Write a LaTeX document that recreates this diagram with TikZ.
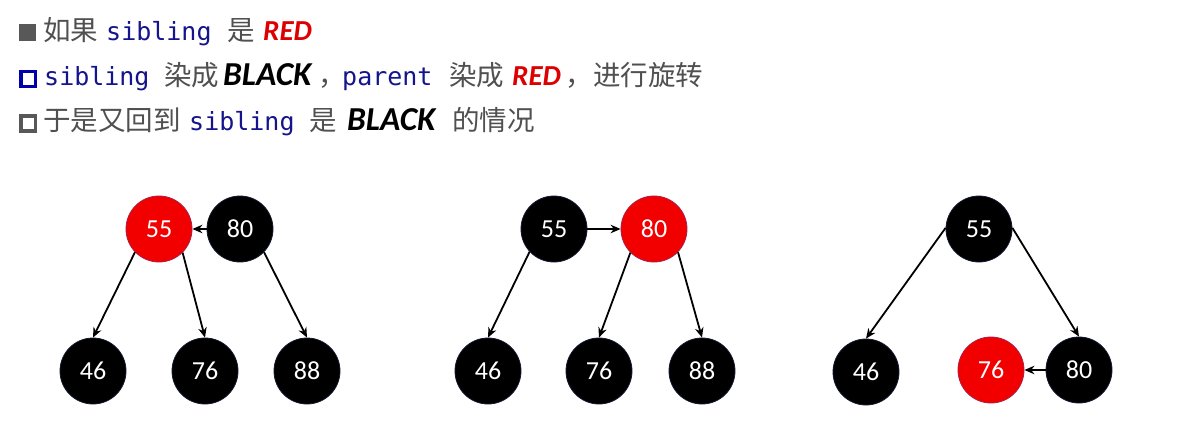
\documentclass[tikz,border=0pt]{standalone}
\usepackage{fontspec}
\setmainfont{Carlito}
\newfontfamily\cjk{Noto Sans CJK SC}
\newfontfamily\monof{DejaVu Sans Mono}
\newfontfamily\numf{Carlito}
\usetikzlibrary{arrows.meta}
\definecolor{txtgrey}{RGB}{80,80,80}
\definecolor{codeblue}{RGB}{20,20,140}
\definecolor{kwred}{RGB}{222,0,0}
\definecolor{nodered}{RGB}{242,0,0}
\definecolor{redborder}{RGB}{170,30,70}
\definecolor{blkborder}{RGB}{20,25,50}
\definecolor{bulletblue}{RGB}{0,0,170}
\definecolor{bulletgrey}{RGB}{88,88,88}
\tikzset{
  txt/.style={anchor=base west, inner sep=0pt, text=txtgrey, font=\cjk\fontsize{27.5}{30}\selectfont},
  code/.style={anchor=base west, inner sep=0pt, text=codeblue, font=\monof\fontsize{25}{30}\selectfont},
  kwr/.style={anchor=base west, inner sep=0pt, text=kwred, font=\fontsize{29}{30}\selectfont\bfseries\itshape},
  kwb/.style={anchor=base west, inner sep=0pt, text=black, font=\fontsize{33.5}{36}\selectfont\bfseries\itshape},
  rbnode/.style={circle, minimum size=66pt, inner sep=0pt, line width=0.8pt, text=white, font=\numf\fontsize{26}{28}\selectfont},
  blk/.style={rbnode, fill=black, draw=blkborder},
  rd/.style={rbnode, fill=nodered, draw=redborder},
  edge/.style={line width=1.8pt, -{Stealth[length=10pt,width=8.5pt]}}
}
\begin{document}
\begin{tikzpicture}[x=1pt,y=-1pt]
\useasboundingbox[fill=white] (0,0) rectangle (1189,431);
% bullets
\fill[bulletgrey] (19,24) rectangle (36,41);
\draw[bulletblue, line width=3.3pt] (21.1,71.6) rectangle (35.4,86.4);
\draw[bulletgrey, line width=3.3pt] (21.1,116.1) rectangle (35.4,130.9);
% line 1
\node[txt]  (l1a) at (43,40) {如果};
\node[code] (l1b) at (106,40) {sibling};
\node[txt]  (l1c) at (227,40) {是};
\node[kwr]  (l1d) at (263,40) {RED};
% line 2
\node[code] (l2a) at (44,85) {sibling};
\node[txt]  (l2b) at (164,85) {染成};
\node[kwb]  (l2c) at (223,85) {BLACK};
\node[txt]  (l2d) at (318,85) {，};
\node[code] (l2e) at (342,85) {parent};
\node[txt]  (l2f) at (449,85) {染成};
\node[kwr]  (l2g) at (512,85) {RED};
\node[txt]  (l2h) at (565,85) {，};
\node[txt]  (l2i) at (593,85) {进行旋转};
% line 3
\node[txt]  (l3a) at (43,130) {于是又回到};
\node[code] (l3b) at (189,130) {sibling};
\node[txt]  (l3c) at (309,130) {是};
\node[kwb]  (l3d) at (347,130) {BLACK};
\node[txt]  (l3e) at (452,130) {的情况};
% tree 1
\node[rd]  (t1a) at (159,229) {55};
\node[blk] (t1b) at (240,229) {80};
\node[blk] (t1c) at (93,371) {46};
\node[blk] (t1d) at (205,371) {76};
\node[blk] (t1e) at (307,371) {88};
\draw[edge] (t1b.west) -- (t1a.east);
\draw[edge] (t1a.-136) -- (t1c.north);
\draw[edge] (t1a.-45) -- (t1d.north);
\draw[edge] (t1b.-44) -- (t1e.north);
% tree 2
\node[blk] (t2a) at (554,229) {55};
\node[rd]  (t2b) at (654,229) {80};
\node[blk] (t2c) at (488,371) {46};
\node[blk] (t2d) at (599,371) {76};
\node[blk] (t2e) at (702,371) {88};
\draw[edge] (t2a.east) -- (t2b.west);
\draw[edge] (t2a.-137) -- (t2c.north);
\draw[edge] (t2b.-135) -- (t2d.north);
\draw[edge] (t2b.-44) -- (t2e.north);
% tree 3
\node[blk] (t3a) at (979,229) {55};
\node[blk] (t3c) at (866,372) {46};
\node[rd]  (t3d) at (991,370) {76};
\node[blk] (t3e) at (1079,370) {80};
\draw[edge] (t3a.178) -- (t3c.north);
\draw[edge] (t3a.2) -- (t3e.north);
\draw[edge] (t3e.west) -- (t3d.east);
\end{tikzpicture}
\end{document}
